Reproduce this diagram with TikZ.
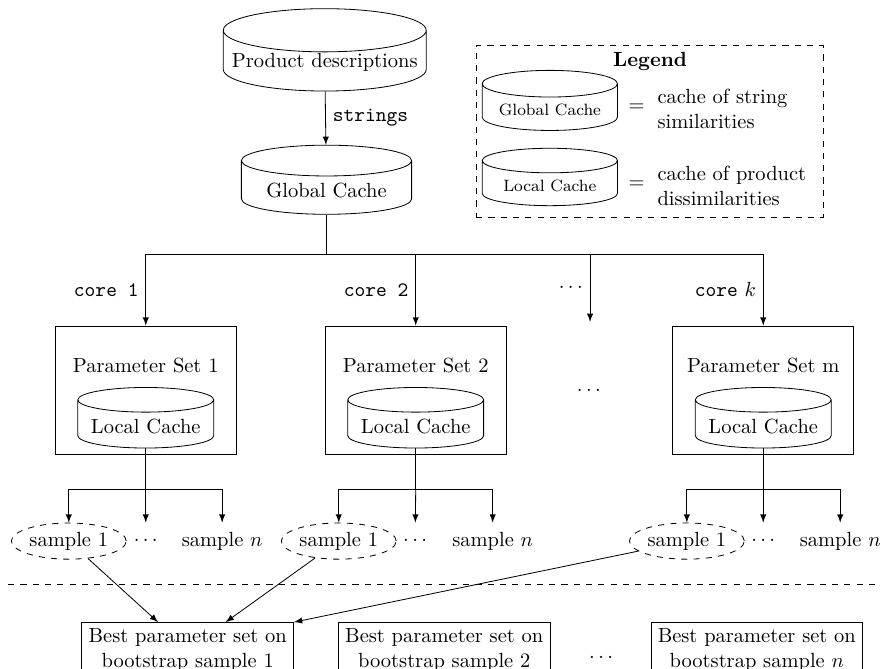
\documentclass[tikz,border=0pt]{standalone}
\usepackage{tikz}
\usetikzlibrary{shapes}
\usetikzlibrary{positioning}
\usetikzlibrary{arrows.meta}
\tikzset{
    cache/.style = {cylinder, shape border rotate=90, draw=black, aspect=0.23, align=center},
    param/.style = {rectangle, draw=black, minimum width=3.10cm, minimum height=2.20cm},
    sample/.style = {inner sep=0pt, minimum height=0.62cm},
    samplee/.style = {ellipse, dashed, draw=black, inner sep=0pt, minimum width=1.97cm, minimum height=0.62cm},
    best/.style = {rectangle, draw=black, align=center, minimum width=3.43cm, inner ysep=3pt},
    edgen/.style = {-latex},
    edgel/.style = {dashed} % separator
}

\begin{document}
\begin{tikzpicture}
\useasboundingbox (0,0) rectangle (15.11,-11.46);
\node[cache, inner sep=0.5pt, minimum width=3.48cm, minimum height=0.80cm] at (5.57,-1.07) (prod) {Product descriptions};
\node[cache, minimum width=2.92cm, minimum height=0.93cm] at (5.60,-3.27) (gc) {Global Cache};
\draw[edgen] (prod) -- node[right] {\texttt{strings}} (gc);

\node[draw=black, dashed, minimum width=5.95cm, minimum height=2.95cm] at (11.14,-2.26) (leg) {};
\node[font=\bfseries] at (11.15,-1.06) (legt) {Legend};
\node[cache, font=\footnotesize, minimum width=2.32cm, minimum height=0.84cm] at (9.43,-1.89) (lgc) {Global Cache};
\node[cache, font=\footnotesize, minimum width=2.32cm, minimum height=0.84cm] at (9.43,-3.19) (llc) {Local Cache};
\node at (10.92,-1.84) (eq1) {$=$};
\node at (10.92,-3.16) (eq2) {$=$};
\node[anchor=west, align=left, inner sep=0pt] at (11.27,-1.87) (lt1) {cache of string\\similarities};
\node[anchor=west, align=left, inner sep=0pt] at (11.27,-3.19) (lt2) {cache of product\\dissimilarities};

\node[param] at (2.50,-6.69) (p1) {};
\node[param] at (7.13,-6.69) (p2) {};
\node[param] at (13.09,-6.69) (pm) {};
\node at (10.10,-6.69) (pdots) {$\dots$};
\node at (2.50,-6.26) (t1) {Parameter Set 1};
\node at (7.13,-6.26) (t2) {Parameter Set 2};
\node at (13.09,-6.26) (tm) {Parameter Set m};
\node[cache, aspect=0.2, minimum width=2.33cm, minimum height=0.50cm] at (2.50,-7.32) (lc1) {Local Cache};
\node[cache, aspect=0.2, minimum width=2.33cm, minimum height=0.50cm] at (7.13,-7.32) (lc2) {Local Cache};
\node[cache, aspect=0.2, minimum width=2.33cm, minimum height=0.50cm] at (13.09,-7.32) (lcm) {Local Cache};

\coordinate (split) at (5.60,-4.36);
\coordinate (c3) at (10.12,-5.52);
\draw (gc) -- (split);
\draw[edgen] (split) -| node[pos=0.75, left] {\texttt{core 1}} (p1);
\draw[edgen] (split) -| node[pos=0.75, left] {\texttt{core 2}} (p2);
\draw[edgen] (split) -| node[pos=0.75, left] {$\cdots$} (c3);
\draw[edgen] (split) -| node[pos=0.75, left] {\texttt{core} $k$} (pm);

\node[samplee] at (1.18,-9.28) (s11) {sample 1};
\node[sample] at (2.50,-9.28) (d1) {$\cdots$};
\node[sample] at (3.81,-9.28) (n1) {sample $n$};
\node[samplee] at (5.81,-9.28) (s21) {sample 1};
\node[sample] at (7.12,-9.28) (d2) {$\cdots$};
\node[sample] at (8.45,-9.28) (n2) {sample $n$};
\node[samplee] at (11.78,-9.28) (s31) {sample 1};
\node[sample] at (13.09,-9.28) (d3) {$\cdots$};
\node[sample] at (14.41,-9.28) (n3) {sample $n$};

\coordinate (f1) at (2.50,-8.39);
\coordinate (f2) at (7.13,-8.39);
\coordinate (f3) at (13.09,-8.39);
\draw (lc1) -- (f1);
\draw[edgen] (f1) -| (s11);
\draw[edgen] (f1) -- (d1);
\draw[edgen] (f1) -| (n1);
\draw (lc2) -- (f2);
\draw[edgen] (f2) -| (s21);
\draw[edgen] (f2) -- (d2);
\draw[edgen] (f2) -| (n2);
\draw (lcm) -- (f3);
\draw[edgen] (f3) -| (s31);
\draw[edgen] (f3) -- (d3);
\draw[edgen] (f3) -| (n3);

\coordinate (sepl) at (0.14,-10.03);
\coordinate (sepr) at (15.11,-10.03);
\draw[edgel] (sepl) -- (sepr);

\node[best, anchor=north] at (3.22,-10.67) (b1) {Best parameter set on\\bootstrap sample 1};
\node[best, anchor=north] at (7.62,-10.67) (b2) {Best parameter set on\\bootstrap sample 2};
\node[best, anchor=north] at (12.98,-10.67) (bn) {Best parameter set on\\bootstrap sample $n$};
\node at (10.31,-11.28) (bdots) {$\dots$};
\draw[edgen] (s11) -- ([xshift=-0.51cm]b1.north);
\draw[edgen] (s21) -- ([xshift=0.65cm]b1.north);
\draw[edgen] (s31) -- (b1.north east);
\end{tikzpicture}
\end{document}
